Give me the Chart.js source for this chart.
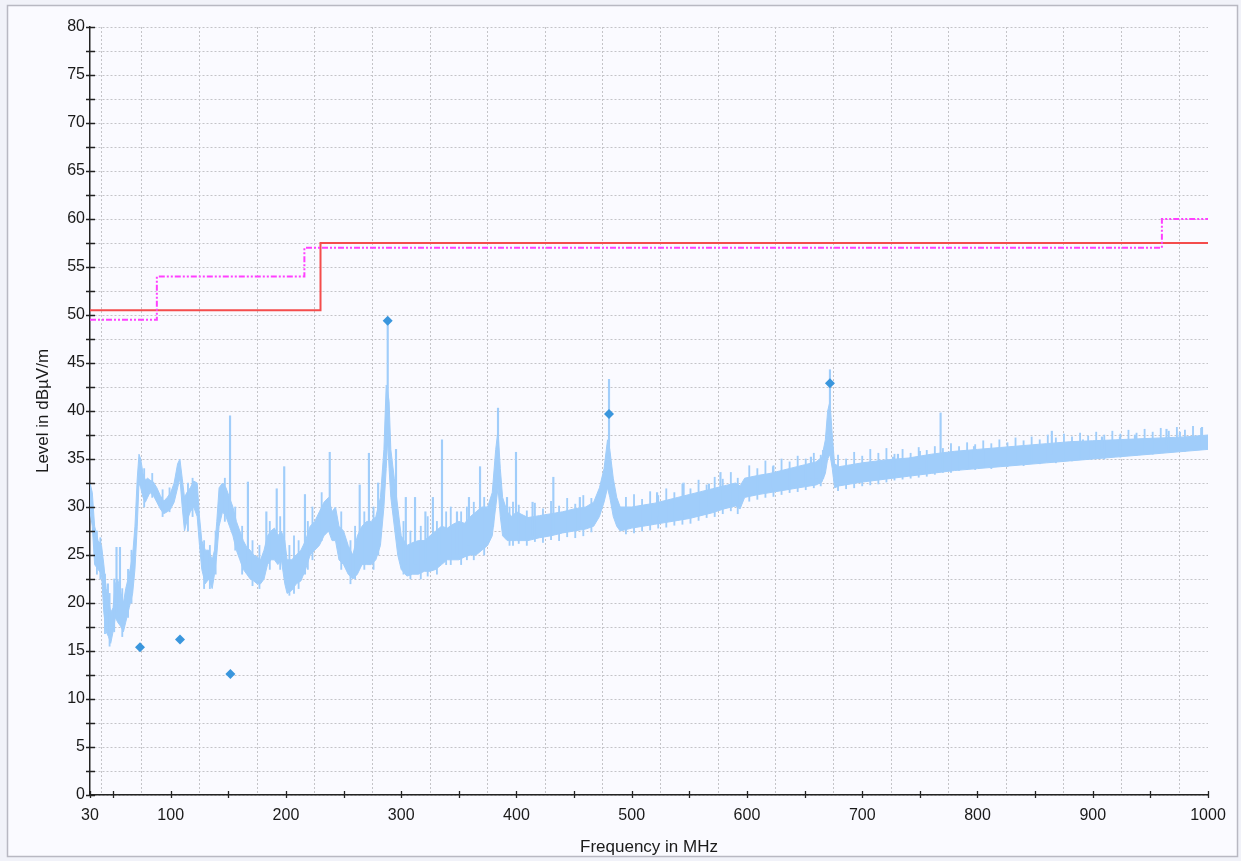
<!DOCTYPE html>
<html><head><meta charset="utf-8">
<script src="https://cdn.jsdelivr.net/npm/chart.js@4"></script>
<style>html,body{margin:0;padding:0;background:#f1f2f9;overflow:hidden}canvas{display:block}</style>
</head><body>
<canvas id="c" width="1241" height="861"></canvas>
<script>
// ---- Data ----
// dense body of the measured trace: frequency (MHz), lower and upper edge (dBµV/m)
const bandFreq = [
  30,32,34,37,40,42,44,46,48,50,
  52,54,57,59,61,64,67,69,71,72.5,
  74,76,78,80,82,85,88,91,94,97,
  100,103,106,108,110,112,114,117,120,123,
  125,127,130,133,136,138,140,142,145,148,
  151,154,157,160,163,166,169,172,175,178,
  181,184,187,190,193,196,199,201,205,209,
  213,217,221,225,229,233,237,240,243,246,
  250,254,258,262,266,270,274,278,282,285,
  287,288.3,289.5,291,294,297,300,305,310,315,
  320,325,330,335,340,345,350,355,360,365,
  370,375,379,382,384,386,388,392,396,400,
  410,420,430,440,450,460,467,472,476,479,
  481,484,487,490,500,510,520,530,540,550,
  560,570,580,590,594,598,610,620,630,640,
  650,660,665,668,670,672,674,676,680,690,
  700,720,740,760,780,800,820,840,860,880,
  900,920,940,960,980,1000];
const bandLow = [
  29.5,28,24,23.5,23,19,17,16.5,15.8,17,
  18.5,18,17.5,17,18,19.5,21,23.5,28,32.5,
  32,31,30.5,31,31.5,31.2,30.5,29.8,29.3,29.5,
  29.8,30.5,32,33,30,27.5,28.5,29.5,30,29,
  26,23.5,22,22.5,21.5,23,25,28,29.5,29,
  28,27,25.5,24.5,23.5,23,22.5,22.3,22,22,
  22.5,24,24.5,24.5,24,24.5,22,21,21.3,22,
  22.3,23.5,25,25.5,26,27,27.5,26.5,26.5,24.5,
  24,23,22.5,23,24,24,24,24.5,26,30,
  34,37,34,31,28,25,23.5,22.8,23,23,
  23.3,23.3,23.5,24,24.5,24.5,24.5,24.8,25,25,
  25.5,26,27,30,32,29,27,26.5,26.5,26.5,
  26.5,26.8,27,27.3,27.5,27.7,28,29,30.5,32,
  31,29,28,27.5,27.8,28,28.2,28.4,28.6,28.8,
  29.1,29.4,29.8,30.1,29.8,31,31.3,31.5,31.7,31.9,
  32.1,32.3,32.6,33.5,35,35.5,34,32,32.2,32.4,
  32.6,32.9,33.2,33.5,33.8,34,34.2,34.4,34.6,34.8,
  35,35.2,35.4,35.6,35.8,36];
const bandHigh = [
  32.5,31.5,28,26.5,26,24,21.5,20.5,19,19.5,
  22,22.5,21,20,21.5,23,25,28,33,35.5,
  35,33.5,32.8,33,32.8,32.6,32,31.2,30.6,31,
  31.5,32.5,34.5,35,33,31,31.5,32,32.7,32.5,
  29,26.5,25.5,25.5,24.5,25.5,28.5,32,32.5,32,
  31,30,28.5,27.5,26.5,25.8,25.5,25,24.8,24.5,
  25.5,27,27.5,27.8,27,27.5,26.5,24.5,24.5,25,
  25.5,26.5,28,28.5,29.5,30.5,31,29.5,30,28,
  27.5,26,25,27,28,28.5,28.5,29,31,36,
  42.7,42,41,36,33,30,27,26,26.3,26.5,
  26.5,27,27.5,28,27.8,28.2,28.5,28.3,29,29.5,
  30,30,31.5,36,38,34,31,29.5,29,29.5,
  28.9,29.1,29.3,29.5,29.8,30,30.5,32,34,37,
  36,33,31,30,30,30.2,30.4,30.7,31,31.3,
  31.6,31.9,32.2,32.5,32.2,33,33.3,33.5,33.8,34.1,
  34.4,34.7,35.2,37,40,41,37.5,34.5,34.2,34.4,
  34.6,34.9,35.1,35.5,35.8,36,36.2,36.4,36.6,36.8,
  36.9,37,37.1,37.2,37.3,37.5];

// isolated peaks of the trace: frequency, foot and tip
const spikeFreq = [45.5,53,56,151.5,167,183,192,198.5,216.5,238,264,272,280,288.3,295.5,304,312,321,327.5,335.4,348.4,358.8,368.4,379.7,384,391.8,399.6,414,432,455,480.3,522,545,567,577,622.6,655.5,660.7,666,672,726.7,731,750,768,797,864.5,891.5,908,923.6,936.6,964,975.6,994.8];
const spikeBase = [19,19,18.5,29,24,24,25,25,23,28,24,25,25,40,29,24,24,24,24,25,25,26,26,28,33,27,27,27,27.5,28,36,29,29.5,30,30.5,32,33,33,33,38,33.5,33.5,34,34,35,35.5,36,36,36,36,36.5,36.5,36.8];
const spikeTop = [22,25.8,25.8,39.5,32.6,29.5,31.9,34.2,31.3,35.7,32.3,35.6,32.5,49.4,36,31,31,29.5,31,37,29.5,31,34.2,31,40.3,31,35.7,30.5,33.1,31,43.3,31.5,32.5,32.4,33.6,34.2,35.2,34.6,35.9,44.3,35.2,35.5,35.8,39.8,36.3,37.9,37,37.3,37.3,37.5,38.1,37.8,38.3];

// noise excursions around the trace body: frequency, lowest and highest value
const fuzzFreq = [
  36,39,43,47,51,58,63,66,77,84,
  93,99,115,119,129,134,139,147,156,162,
  171,177,186,195,203,207,211,219,223,231,
  248,256,260,268,276,302,308,317,323,331,
  339,343,352,357,363,372,394,397,402,409,
  416,423,430,437,444,451,458,465,495,502,
  509,516,523,530,537,544,551,558,565,572,
  579,586,592,602,609,616,623,630,637,644,
  651,658,664,679,686,693,700,707,714,721,
  728,735,742,749,756,763,770,777,784,791,
  798,805,812,819,826,833,840,847,854,861,
  868,875,882,889,896,903,910,917,924,931,
  938,945,952,959,966,973,980,987,994];
const fuzzBottom = [
  23,22.5,16.8,15.5,17,16.5,18.5,20,30,31,
  29,29.5,27.5,29,21.5,21.5,23,28.5,25.5,23,
  21.8,21.5,23.5,23.5,20.8,21,21.5,23.5,24.5,26.5,
  23.5,22,22.5,23.5,23.5,23,22.5,22.5,22.8,23,
  24,24,24,24.5,24.5,25,26,26,26.2,26,
  26.4,26.3,26.6,26.5,26.9,26.8,27,27.4,27.2,27.3,
  27.5,27.6,27.8,27.9,28.1,28.2,28.3,28.6,28.9,29,
  29.3,29.6,29.3,30.6,30.8,31,31.1,31.3,31.5,31.6,
  31.8,32,32.2,31.7,31.9,32,32.2,32.3,32.4,32.6,
  32.8,32.9,33,33.1,33.2,33.4,33.6,33.6,33.8,33.9,
  33.9,34.1,34,34.3,34.2,34.4,34.3,34.6,34.5,34.7,
  34.6,34.9,34.8,35,35,35.1,35,35.3,35.2,35.5,
  35.4,35.6,35.5,35.8,35.7,35.9,35.8,36,36];
const fuzzTop = [
  27.5,26.8,23,21,22.5,21.5,23.5,25.5,34,33.5,
  31.8,32,32.5,33,26.5,26,27.5,33,30,28,
  26.5,26,28.5,29,26,27,26.5,28.5,30,31.5,
  29.5,26.5,28,29.5,30,28.5,27.5,28,29,28.5,
  29.5,30,29.5,30,30.5,31,30,30.5,30.2,29.6,
  30.4,29.8,30.6,30.1,30.9,30.3,31.2,30.9,31,31.3,
  30.8,31.6,31.2,31.9,31.5,32.4,31.9,32.8,32.3,33.1,
  32.9,33.6,33,34.3,34,34.8,34.3,35,34.7,35.3,
  35,35.6,35.4,35.4,35,35.7,35.3,36,35.6,36.1,
  35.5,36,35.6,36.2,35.9,36.3,36.1,36.6,36.3,36.7,
  36.5,36.9,36.6,37,36.7,37.2,36.9,37.3,37,37.5,
  37.2,37.6,37.3,37.7,37.4,37.8,37.5,37.9,37.6,38,
  37.7,38.1,37.8,38.2,37.9,38.3,38,38.4,38.2];

// final measurement points
const markerFreq = [73.4,108.1,151.8,288.3,480.3,672];
const markerLevel = [15.4,16.2,12.6,49.4,39.7,42.9];

// limit lines (level holds from each frequency to the next)
const limitAFreq = [30,230,1000];
const limitALevel = [50.5,57.5,57.5];
const limitBFreq = [30,88,216,960,1000];
const limitBLevel = [49.5,54,57,60,60];

const xTickValues = [30,50,100,150,200,250,300,350,400,450,500,550,600,650,700,750,800,850,900,950,1000];
const xTickLabels = [30,100,200,300,400,500,600,700,800,900,1000];

// ---- Chart ----
const pts = (xs, ys) => xs.map((x, i) => ({x: x, y: ys[i]}));
const TRACE = '#a0cdfa';
const FONT = "'Liberation Sans', Arial, sans-serif";

const framePlugin = {
  id: 'frame',
  beforeDraw(chart) {
    const ctx = chart.ctx;
    ctx.save();
    ctx.fillStyle = '#f1f2f9';
    ctx.fillRect(0, 0, chart.width, chart.height);
    ctx.fillStyle = '#fafaff';
    ctx.fillRect(7, 5, 1231, 852);
    ctx.strokeStyle = '#b8b8c2';
    ctx.lineWidth = 1.5;
    ctx.strokeRect(7.5, 5.5, 1230, 851);
    ctx.restore();
  },
  afterDraw(chart) {
    const ctx = chart.ctx, xs = chart.scales.x, ys = chart.scales.y, a = chart.chartArea;
    ctx.save();
    ctx.strokeStyle = '#222';
    ctx.lineWidth = 1.3;
    ctx.beginPath();
    ys.ticks.forEach(t => {
      const p = Math.round(ys.getPixelForValue(t.value)) + 0.5;
      ctx.moveTo(a.left - 4, p); ctx.lineTo(a.left + 5, p);
    });
    xs.ticks.forEach(t => {
      const p = Math.round(xs.getPixelForValue(t.value)) + 0.5;
      ctx.moveTo(p, a.bottom - 4); ctx.lineTo(p, a.bottom + 3);
    });
    ctx.stroke();
    ctx.restore();
  }
};

new Chart(document.getElementById('c'), {
  type: 'line',
  data: {
    datasets: [
      { label: 'low', data: pts(bandFreq, bandLow), borderColor: TRACE, borderWidth: 1, pointRadius: 0, fill: false, order: 6 },
      { label: 'high', data: pts(bandFreq, bandHigh), borderColor: TRACE, backgroundColor: TRACE, borderWidth: 1, pointRadius: 0, fill: '-1', order: 6 },
      { type: 'bar', label: 'fuzz', data: fuzzFreq.map((f, i) => ({x: f, y: [fuzzBottom[i], fuzzTop[i]]})), backgroundColor: TRACE, borderWidth: 0, barThickness: 1.2, grouped: false, order: 5 },
      { type: 'bar', label: 'spikes', data: spikeFreq.map((f, i) => ({x: f, y: [spikeBase[i], spikeTop[i]]})), backgroundColor: TRACE, borderWidth: 0, barThickness: 1.5, grouped: false, order: 4 },
      { label: 'limit A', data: pts(limitAFreq, limitALevel), stepped: 'before', borderColor: '#f44c4c', borderWidth: 2, pointRadius: 0, fill: false, order: 2 },
      { label: 'limit B', data: pts(limitBFreq, limitBLevel), stepped: 'before', borderColor: '#ff40ff', borderWidth: 2, borderDash: [6,2,2,2,2,2], pointRadius: 0, fill: false, order: 1 },
      { label: 'final', data: pts(markerFreq, markerLevel), showLine: false, pointStyle: 'rectRot', pointRadius: 5, pointBackgroundColor: '#3a96dd', pointBorderColor: '#3a96dd', pointBorderWidth: 0, order: 0 }
    ]
  },
  options: {
    responsive: false,
    animation: false,
    events: [],
    layout: { padding: { left: 0, top: 27, right: 33, bottom: 0 } },
    plugins: { legend: { display: false }, tooltip: { enabled: false } },
    scales: {
      x: {
        type: 'linear', min: 30, max: 1000, offset: false,
        afterFit: s => { s.height = 66; },
        afterBuildTicks: s => { s.ticks = xTickValues.map(v => ({value: v})); },
        ticks: { autoSkip: false, maxRotation: 0, padding: 11, color: '#1a1a1a', font: { family: FONT, size: 16 },
                 callback: v => xTickLabels.includes(v) ? String(v) : '' },
        grid: { color: '#c4c4c8', lineWidth: 1, drawTicks: false },
        border: { display: true, color: '#222', width: 1.5, dash: [2,2] },
        title: { display: true, text: 'Frequency in MHz', color: '#1a1a1a', font: { family: FONT, size: 17 }, padding: { top: 0, bottom: 3 } }
      },
      y: {
        type: 'linear', min: 0, max: 80,
        afterFit: s => { s.width = 90; },
        ticks: { stepSize: 2.5, autoSkip: false, padding: 5, color: '#1a1a1a', font: { family: FONT, size: 16 },
                 callback: v => v % 5 === 0 ? String(v) : '' },
        grid: { color: '#c4c4c8', lineWidth: 1, drawTicks: false },
        border: { display: true, color: '#222', width: 1.5, dash: [2,2] },
        title: { display: true, text: 'Level in dBµV/m', color: '#1a1a1a', font: { family: FONT, size: 17 }, padding: { top: 33, bottom: 0 } }
      }
    }
  },
  plugins: [framePlugin]
});
</script>
</body></html>
